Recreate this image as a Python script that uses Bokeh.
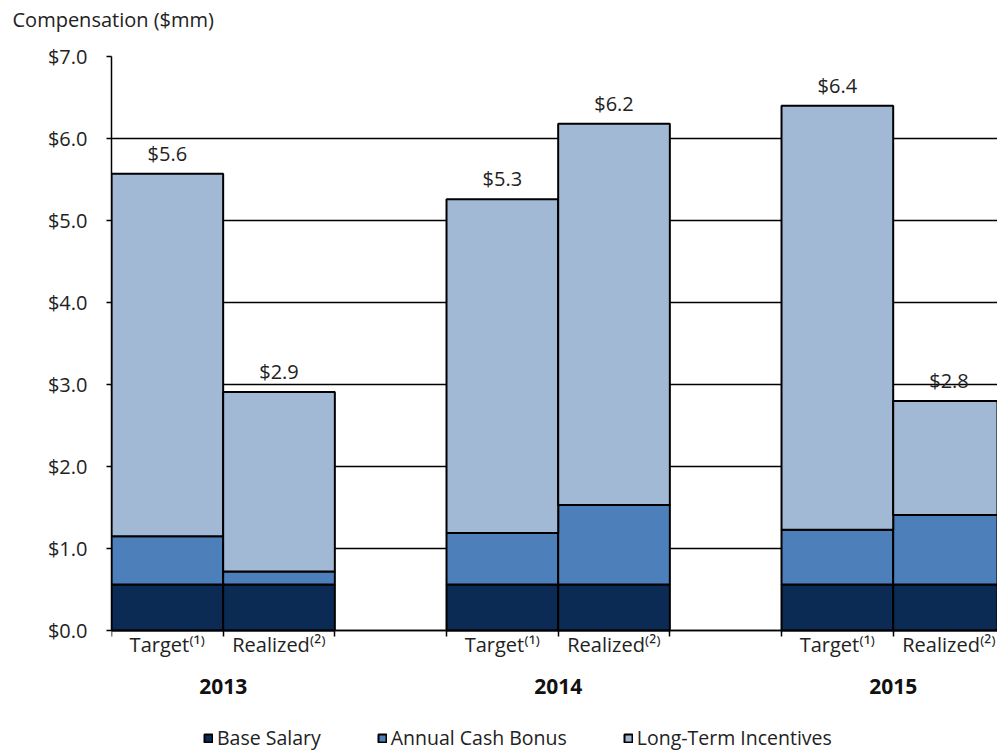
from bokeh.plotting import figure
from bokeh.models import (ColumnDataSource, Range1d, LinearAxis, FixedTicker,
                          NumeralTickFormatter, Legend, LegendItem, Title, Grid)
from bokeh.embed import file_html
from bokeh.resources import INLINE
from bokeh.core.properties import value

# ---- data ----
years = ["2013", "2014", "2015"]
bar_types = ["Target⁽¹⁾", "Realized⁽²⁾"]
base_salary = [0.56, 0.56, 0.56, 0.56, 0.56, 0.56]
cash_bonus = [0.59, 0.16, 0.63, 0.97, 0.67, 0.85]
long_term = [4.42, 2.19, 4.07, 4.65, 5.17, 1.39]
series_names = ["Base Salary", "Annual Cash Bonus", "Long-Term Incentives"]
y_ticks = [0, 1, 2, 3, 4, 5, 6, 7]

colors = ["#0b2b54", "#4d80ba", "#a2b9d5"]
FONT = "Open Sans"

# slot layout: each year = Target, Realized, gap
slots_per_group = len(bar_types) + 1
xs = []
labels_cat = []
for gi, yr in enumerate(years):
    for bi, bt in enumerate(bar_types):
        xs.append(gi * slots_per_group + bi + 0.5)
        labels_cat.append(bt)

totals = [b + c + l for b, c, l in zip(base_salary, cash_bonus, long_term)]
src = ColumnDataSource(dict(
    x=xs, base=base_salary, bonus=cash_bonus, lti=long_term,
    total=totals, lab=["$%.1f" % t for t in totals],
))

# ---- layout (pixels) ----
W, H = 997, 751
TOP, ZERO_Y, LEFT = 56, 630, 111
px_per_unit = (ZERO_Y - TOP) / max(y_ticks)
y_lo = -(H - ZERO_Y) / px_per_unit      # frame runs to the bottom edge
slot_px = 111.67
x_hi = (W - LEFT) / slot_px

p = figure(width=W, height=H, output_backend="svg", toolbar_location=None,
           x_range=Range1d(0, x_hi), y_range=Range1d(y_lo, max(y_ticks)),
           x_axis_type=None, y_axis_type=None,
           min_border_left=LEFT, min_border_right=0, min_border_top=TOP,
           min_border_bottom=0)
p.outline_line_color = None
p.background_fill_color = "white"

# y axis
yax = LinearAxis(ticker=FixedTicker(ticks=y_ticks),
                 formatter=NumeralTickFormatter(format="$0.0"),
                 bounds=(0, max(y_ticks)))
yax.axis_line_color = "black"
yax.axis_line_width = 1.5
yax.major_tick_line_color = "black"
yax.major_tick_line_width = 1.5
yax.major_tick_out = 5
yax.major_tick_in = 0
yax.minor_tick_line_color = None
yax.major_label_standoff = 19
yax.major_label_text_font = FONT
yax.major_label_text_font_size = "20px"
yax.major_label_text_color = "#222222"
p.add_layout(yax, "left")

# horizontal grid lines
grid = Grid(dimension=1, ticker=FixedTicker(ticks=y_ticks))
grid.grid_line_color = "black"
grid.grid_line_width = 1.5
p.add_layout(grid)

# x axis (categories) drawn at y=0, minor ticks at bar boundaries
n_slots = slots_per_group * len(years)
xax = LinearAxis(ticker=FixedTicker(ticks=xs, minor_ticks=list(range(0, n_slots + 1))),
                 fixed_location=0)
xax.major_label_overrides = {float(x): l for x, l in zip(xs, labels_cat)}
xax.axis_line_color = "black"
xax.axis_line_width = 1.5
xax.major_tick_line_color = None
xax.major_tick_out = 0
xax.major_tick_in = 0
xax.minor_tick_line_color = "black"
xax.minor_tick_line_width = 1.5
xax.minor_tick_out = 6
xax.minor_tick_in = 0
xax.major_label_standoff = -6
xax.major_label_text_font = FONT
xax.major_label_text_font_size = "20px"
xax.major_label_text_color = "#222222"
p.add_layout(xax, "below")

# year axis, also anchored at y=0
year_pos = [gi * slots_per_group + len(bar_types) / 2 for gi in range(len(years))]
yrax = LinearAxis(ticker=FixedTicker(ticks=year_pos, minor_ticks=[]), fixed_location=0)
yrax.major_label_overrides = {float(x): y for x, y in zip(year_pos, years)}
yrax.axis_line_color = None
yrax.major_tick_line_color = None
yrax.major_tick_out = 0
yrax.minor_tick_line_color = None
yrax.major_label_standoff = 48
yrax.major_label_text_font = FONT
yrax.major_label_text_font_size = "21px"
yrax.major_label_text_font_style = "bold"
yrax.major_label_text_color = "#111111"
p.add_layout(yrax, "below")

# stacked bars
rs = p.vbar_stack(["base", "bonus", "lti"], x="x", width=1.0, source=src,
                  fill_color=colors, line_color="black", line_width=2)

# value labels
p.text(x="x", y="total", text="lab", source=src, text_align="center",
       text_baseline="bottom", y_offset=-7, text_font=value(FONT),
       text_font_size="20px", text_color="#222222")

# legend at the bottom of the frame
legend = Legend(items=[LegendItem(label=n, renderers=[r]) for n, r in zip(series_names, rs)],
                orientation="horizontal", glyph_width=10, glyph_height=10,
                label_standoff=4, spacing=56, padding=0, margin=0,
                label_text_font=FONT, label_text_font_size="19.5px",
                label_text_color="#222222", border_line_color=None,
                background_fill_alpha=0, location=(92, 0))
p.add_layout(legend, "center")

# title (an extra blank line lifts it towards the top edge)
p.title = Title(text="Compensation ($mm)\n\u00a0", align="left", offset=-(LEFT - 12),
                vertical_align="top", text_line_height=0.8,
                text_font=FONT, text_font_size="20px", text_font_style="normal",
                text_color="#222222", standoff=0)

open("out.html", "w").write(file_html(p, INLINE))
